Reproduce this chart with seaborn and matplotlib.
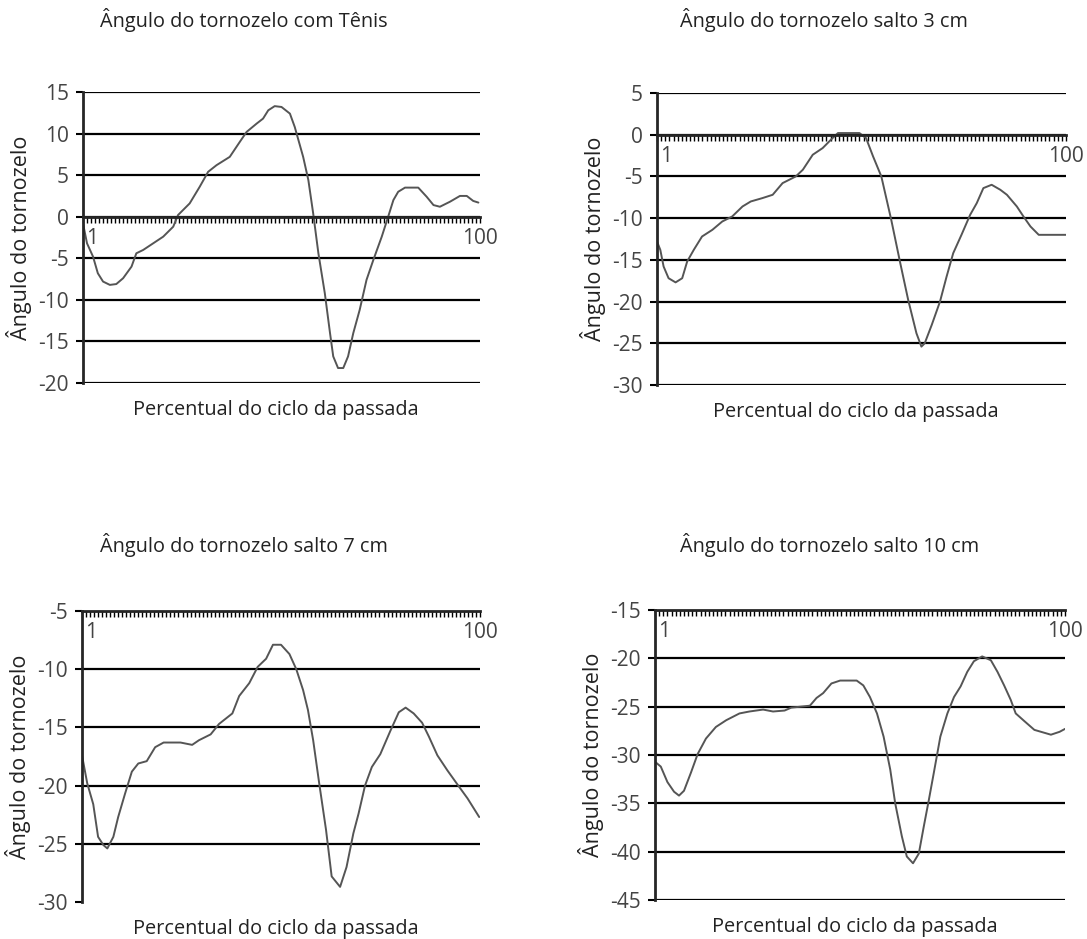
import seaborn as sns
import matplotlib.pyplot as plt

# Ângulo do tornozelo vs percentual do ciclo da passada
x_tenis = [1, 2, 3.5, 4.7, 6, 7.7, 9.3, 11, 13.1, 14.3, 16, 18.5, 21, 23.5, 24.7, 27.6, 30.1, 32.2, 34.3,
           37.6, 40.1, 41.8, 44.3, 45.9, 47.2, 48.8, 50.5, 52.6, 53.8, 55.9, 57.2, 58.4, 59.7, 61.3, 62.6,
           63.4, 64.6, 65.9, 67.1, 68.4, 70, 71.7, 73.4, 75.5, 77.1, 78.4, 79.6, 81.3, 84.6, 86.7, 88.4,
           90, 92.5, 95, 96.7, 98.3, 99.6]
y_tenis = [-0.8, -3.2, -4.8, -6.8, -7.8, -8.2, -8.1, -7.4, -6.0, -4.4, -4.0, -3.2, -2.4, -1.2, 0.2, 1.6,
           3.6, 5.4, 6.2, 7.2, 9.0, 10.2, 11.2, 11.8, 12.8, 13.3, 13.2, 12.4, 10.8, 7.2, 4.4, 0.4, -4.4,
           -9.2, -14.0, -16.8, -18.2, -18.2, -16.8, -14.0, -11.2, -7.6, -5.2, -2.4, 0.0, 2.0, 3.0, 3.5,
           3.5, 2.4, 1.4, 1.2, 1.8, 2.5, 2.5, 1.9, 1.7]

x_3cm = [1, 1.8, 2.6, 3.8, 5.5, 7.1, 8.3, 9.9, 11.9, 14.4, 16.8, 19.2, 21.7, 23.7, 26.5, 29, 31.4, 34.6,
         36.3, 38.7, 41.1, 43.5, 44.8, 50, 51.6, 53.3, 55.3, 57.7, 59.8, 61.8, 63.8, 65, 65.8, 67.5, 69.5,
         71.1, 72.7, 74.7, 76.8, 78.4, 80, 82, 84.1, 85.7, 88.1, 89.7, 91.4, 93.4, 100]
y_3cm = [-12.8, -13.8, -15.8, -17.2, -17.7, -17.2, -15.2, -13.8, -12.2, -11.4, -10.4, -9.8, -8.6, -8.0,
         -7.6, -7.2, -5.8, -5.0, -4.2, -2.4, -1.6, -0.4, 0.2, 0.2, -0.4, -2.6, -5.0, -10.2, -15.2, -19.8,
         -23.8, -25.4, -25.0, -22.8, -20.0, -17.0, -14.2, -12.0, -9.6, -8.2, -6.4, -6.0, -6.6, -7.2, -8.6,
         -9.8, -11.0, -12.0, -12.0]

x_7cm = [1, 2.3, 3.8, 5, 6.3, 7.3, 8.8, 10, 11.7, 13.4, 15, 17.1, 19.2, 21.3, 25.5, 28.4, 30.1, 33, 35.1,
         38.4, 40.1, 42.6, 44.7, 46.8, 48.5, 50.5, 52.6, 54.3, 56, 57.2, 58.5, 60, 61.7, 63.1, 65.2, 66.8,
         68.5, 69.8, 71.4, 73.1, 75.2, 77.7, 79.8, 81.5, 83.5, 85.6, 87.3, 89.4, 91.9, 94.8, 96.9, 99.8]
y_7cm = [-17.4, -19.8, -21.6, -24.4, -25.1, -25.4, -24.4, -22.7, -20.7, -18.8, -18.1, -17.9, -16.7, -16.3,
         -16.3, -16.5, -16.1, -15.6, -14.7, -13.8, -12.3, -11.2, -9.8, -9.1, -7.9, -7.9, -8.7, -10.0,
         -11.8, -13.5, -16.1, -19.8, -23.8, -27.8, -28.7, -27.0, -24.1, -22.4, -20.0, -18.4, -17.3, -15.3,
         -13.7, -13.3, -13.8, -14.6, -15.8, -17.4, -18.7, -20.1, -21.1, -22.7]

x_10cm = [1, 2.4, 4, 5.6, 6.8, 8, 9.7, 11.3, 13.3, 15.7, 18.2, 21.4, 23.8, 27.1, 29.5, 32.3, 33.9, 38.4,
          40, 41.6, 43.6, 45.7, 49.7, 51.3, 52.9, 54.6, 56.2, 57.8, 59, 60.6, 61.8, 63.3, 64.7, 65.9, 67.1,
          68.3, 69.9, 71.6, 73.2, 74.8, 76.4, 78, 80, 82.1, 83.7, 85.3, 86.9, 88.1, 90.2, 92.6, 94.2, 96.6,
          98.7, 100]
y_10cm = [-30.7, -31.2, -32.8, -33.8, -34.2, -33.7, -31.8, -29.9, -28.3, -27.1, -26.4, -25.7, -25.5, -25.3,
          -25.5, -25.4, -25.1, -24.9, -24.1, -23.6, -22.6, -22.3, -22.3, -22.8, -24.0, -25.7, -28.1, -31.5,
          -35.0, -38.4, -40.5, -41.2, -40.2, -37.4, -34.7, -31.9, -28.1, -25.7, -24.0, -22.9, -21.4, -20.3,
          -19.8, -20.2, -21.4, -22.8, -24.3, -25.7, -26.5, -27.4, -27.6, -27.9, -27.6, -27.3]

titles = ["Ângulo do tornozelo com Tênis", "Ângulo do tornozelo salto 3 cm",
          "Ângulo do tornozelo salto 7 cm", "Ângulo do tornozelo salto 10 cm"]
xlabel = "Percentual do ciclo da passada"
ylabel = "Ângulo do tornozelo"
x_tick_pos = [1, 100]
x_tick_labels = ["1", "100"]

sns.set_style("ticks")
plt.rcParams['font.family'] = ['Open Sans', 'DejaVu Sans']
plt.rcParams['axes.unicode_minus'] = False

W, H = 1087, 939
fig = plt.figure(figsize=(W / 100, H / 100), dpi=100)

# (x, y, ymin, ymax, x-axis position, axes box in px: left, top, right, bottom, title x, title y, hide bottom grid)
panels = [
    (x_tenis, y_tenis, -20, 15, 0, (83, 92, 480, 383), 100, 20, False),
    (x_3cm, y_3cm, -30, 5, 0, (657, 93, 1066, 385), 680, 20, False),
    (x_7cm, y_7cm, -30, -5, -5, (82, 611, 480, 902), 100, 545, True),
    (x_10cm, y_10cm, -45, -15, -15, (655, 610, 1065, 900), 680, 545, False),
]

for i, (xs, ys, ymin, ymax, axis_y, box, tx, ty, hide_bottom) in enumerate(panels):
    l, t, r, b = box
    ax = fig.add_axes([l / W, 1 - b / H, (r - l) / W, (b - t) / H])
    sns.lineplot(x=xs, y=ys, ax=ax, color="#555555", linewidth=1.4)
    ax.set_xlim(1, 100)
    ax.set_ylim(ymin, ymax)
    ax.set_yticks(range(ymin, ymax + 1, 5))
    ax.set_xticks(range(1, 101))
    ax.spines['bottom'].set_position(('data', axis_y))
    ax.spines['top'].set_visible(False)
    ax.spines['right'].set_visible(False)
    ax.spines['bottom'].set_linewidth(2)
    ax.spines['left'].set_linewidth(2)
    ax.yaxis.grid(True, color="black", linewidth=1.6)
    if hide_bottom:
        ax.get_ygridlines()[0].set_visible(False)
    ax.tick_params(axis='y', direction='out', length=5, width=1.5, color='black',
                   labelsize=15, labelcolor='#444444', pad=5)
    ax.tick_params(axis='x', direction='out', length=4, width=1, color='black', labelbottom=False)
    for pos, lab in zip(x_tick_pos, x_tick_labels):
        ax.annotate(lab, xy=(pos, axis_y), xytext=(2.5 if pos == 1 else 0, -8), textcoords='offset points',
                    ha='left' if pos == 1 else 'center', va='top', fontsize=15, color='#444444')
    ax.set_xlabel("")
    ax.set_ylabel("")
    fig.text(tx / W, 1 - ty / H, titles[i], ha='left', va='center', fontsize=14.3, color='#222222')
    fig.text((l + r) / 2 / W - 0.005, 1 - (b + 27) / H, xlabel, ha='center', va='center',
             fontsize=14.3, color='#222222')
    fig.text((l - 64) / W, 1 - (t + b) / 2 / H, ylabel, ha='center', va='center', rotation=90,
             fontsize=15.5, color='#222222')

plt.savefig("out.png", dpi=100)
plt.close()
